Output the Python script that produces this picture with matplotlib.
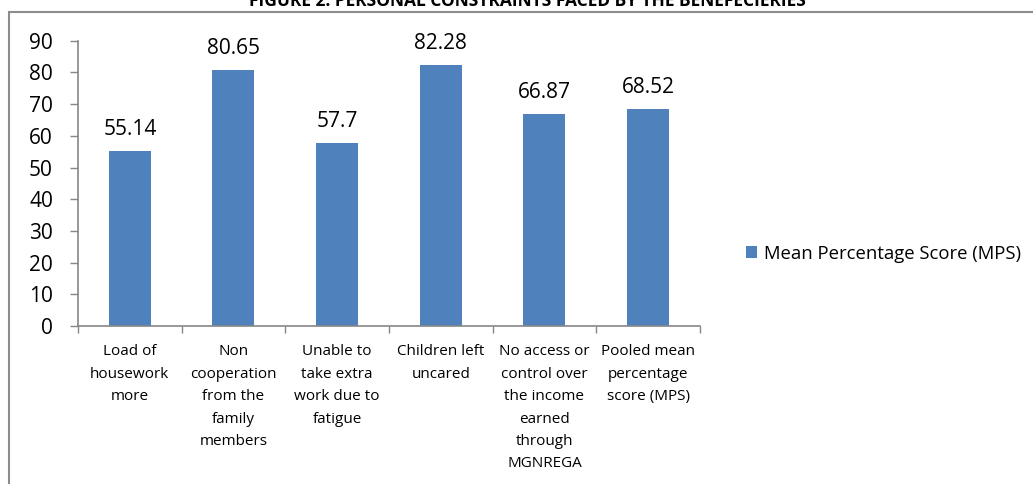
import matplotlib.pyplot as plt
import matplotlib.patches as mpatches
import numpy as np

# Data
categories = [
    "Load of\nhousework\nmore",
    "Non\ncooperation\nfrom the\nfamily\nmembers",
    "Unable to\ntake extra\nwork due to\nfatigue",
    "Children left\nuncared",
    "No access or\ncontrol over\nthe income\nearned\nthrough\nMGNREGA",
    "Pooled mean\npercentage\nscore (MPS)",
]
mps_values = [55.14, 80.65, 57.7, 82.28, 66.87, 68.52]
value_labels = ["55.14", "80.65", "57.7", "82.28", "66.87", "68.52"]
y_ticks = [0, 10, 20, 30, 40, 50, 60, 70, 80, 90]
series_name = "Mean Percentage Score (MPS)"
title = "FIGURE 2: PERSONAL CONSTRAINTS FACED BY THE BENEFECIERIES"

BAR_CLR = "#4F81BD"
AXIS_CLR = "#868686"
FONT = ["Open Sans", "DejaVu Sans"]
plt.rcParams["font.family"] = FONT

fig = plt.figure(figsize=(10.33, 4.84), dpi=100)
ax = fig.add_axes([0.0755, 0.3264, 0.6021, 0.5895])

x = np.arange(len(categories))
ax.bar(x, mps_values, width=0.405, color=BAR_CLR, label=series_name, zorder=2)

#value labels above bars
for xi, v, lab in zip(x, mps_values, value_labels):
    ax.annotate(lab, (xi, v), xytext=(0, 8), textcoords="offset points",
                ha="center", va="bottom", fontsize=15, color="black")

ax.set_xlim(-0.5, len(categories) - 0.5)
ax.set_ylim(0, 90)
ax.set_yticks(y_ticks)
ax.set_yticklabels([str(t) for t in y_ticks], fontsize=15)
ax.tick_params(axis="y", length=6, color=AXIS_CLR, width=1, pad=12)

#category boundaries as major ticks, labels on minor ticks
ax.set_xticks(np.arange(-0.5, len(categories), 1.0))
ax.set_xticklabels([])
ax.tick_params(axis="x", which="major", length=5, color=AXIS_CLR, width=1)
ax.set_xticks(x, minor=True)
ax.set_xticklabels(categories, minor=True, fontsize=11, linespacing=1.68)
ax.tick_params(axis="x", which="minor", length=0, pad=13)

for s in ["top", "right"]:
    ax.spines[s].set_visible(False)
for s in ["left", "bottom"]:
    ax.spines[s].set_color(AXIS_CLR)
    ax.spines[s].set_linewidth(1.2)

#legend on the right
fig.legend(loc="center left", bbox_to_anchor=(0.706, 0.476), frameon=False,
           fontsize=13.3, handlelength=0.6, handleheight=0.6, handletextpad=0.4)

#outer chart frame
frame = mpatches.Rectangle((9 / 1033, -0.1), 1.1, 1.1 - 12 / 484,
                           transform=fig.transFigure, fill=False,
                           edgecolor="#8c8c8c", linewidth=1.5)
fig.patches.append(frame)

#title is cut off at the top of the picture
fig.text(0.511, 1 - 1 / 484, title, ha="center", va="center", fontsize=12.5,
         fontweight="bold", color="black")

plt.savefig("out.png", dpi=100)
